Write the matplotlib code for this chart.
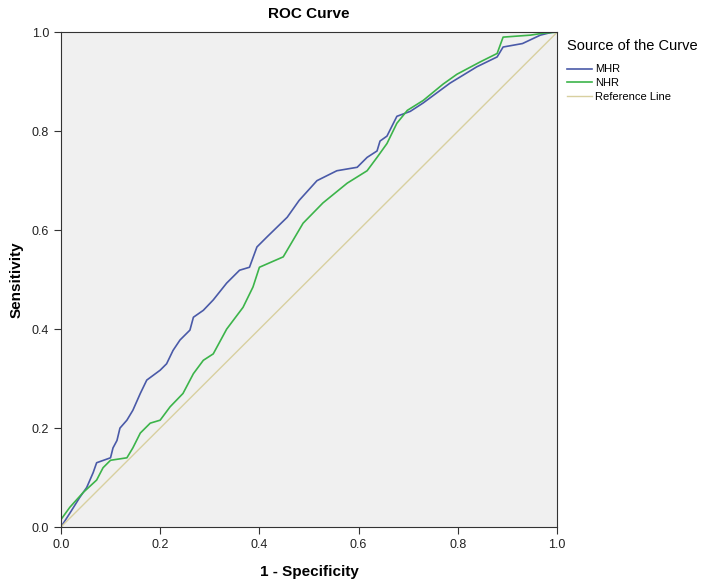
import matplotlib
matplotlib.use("Agg")
import matplotlib.pyplot as plt

plt.rcParams['font.family'] = ['Liberation Sans', 'DejaVu Sans']

# values
mhr_fpr = [0.0, 0.018, 0.038, 0.052, 0.065, 0.072, 0.10, 0.105, 0.113, 0.119, 0.133,
           0.145, 0.16, 0.173, 0.20, 0.213, 0.226, 0.24, 0.26, 0.267, 0.287, 0.307,
           0.334, 0.36, 0.38, 0.395, 0.415, 0.456, 0.48, 0.516, 0.556, 0.597, 0.617,
           0.637, 0.643, 0.657, 0.677, 0.704, 0.73, 0.784, 0.838, 0.879, 0.891, 0.93,
           0.966, 0.99, 1.0]
mhr_tpr = [0.0, 0.028, 0.06, 0.08, 0.11, 0.13, 0.14, 0.16, 0.175, 0.20, 0.216,
           0.236, 0.27, 0.297, 0.317, 0.33, 0.357, 0.378, 0.398, 0.424, 0.438, 0.459,
           0.493, 0.519, 0.525, 0.566, 0.586, 0.626, 0.66, 0.70, 0.72, 0.727, 0.747,
           0.76, 0.78, 0.79, 0.83, 0.84, 0.857, 0.897, 0.93, 0.95, 0.97, 0.977,
           0.994, 1.0, 1.0]

nhr_fpr = [0.0, 0.018, 0.045, 0.072, 0.085, 0.10, 0.133, 0.145, 0.16, 0.18, 0.20,
           0.22, 0.246, 0.267, 0.287, 0.307, 0.334, 0.367, 0.387, 0.40, 0.448, 0.488,
           0.528, 0.577, 0.617, 0.637, 0.657, 0.677, 0.698, 0.73, 0.77, 0.798, 0.845,
           0.879, 0.891, 0.946, 0.972, 1.0]
nhr_tpr = [0.015, 0.04, 0.07, 0.095, 0.12, 0.135, 0.14, 0.16, 0.19, 0.21, 0.216,
           0.243, 0.27, 0.31, 0.337, 0.35, 0.40, 0.444, 0.485, 0.525, 0.546, 0.614,
           0.655, 0.695, 0.72, 0.747, 0.775, 0.816, 0.842, 0.862, 0.895, 0.915, 0.94,
           0.957, 0.99, 0.994, 0.998, 1.0]

ref_x = [0.0, 1.0]
ref_y = [0.0, 1.0]

ticks = [0.0, 0.2, 0.4, 0.6, 0.8, 1.0]

fig = plt.figure(figsize=(7.08, 5.85), dpi=100)
ax = fig.add_axes([0.086, 0.099, 0.701, 0.846])
ax.set_facecolor('#f0f0f0')

ax.plot(mhr_fpr, mhr_tpr, color='#4a5aa8', lw=1.2, label='MHR')
ax.plot(nhr_fpr, nhr_tpr, color='#3cb44a', lw=1.2, label='NHR')
ax.plot(ref_x, ref_y, color='#d8d0a0', lw=1.0, label='Reference Line')

ax.set_xlim(0, 1)
ax.set_ylim(0, 1)
ax.set_xticks(ticks)
ax.set_yticks(ticks)
ax.set_xticklabels([f"{t:.1f}" for t in ticks])
ax.set_yticklabels([f"{t:.1f}" for t in ticks])
ax.tick_params(direction='out', length=5, labelsize=9, color='#333333', labelcolor='#222222')
for s in ax.spines.values():
    s.set_color('#333333')

ax.set_title("ROC Curve", fontsize=11, fontweight='bold', pad=10)
ax.set_xlabel("1 - Specificity", fontsize=11, fontweight='bold', labelpad=10)
ax.set_ylabel("Sensitivity", fontsize=11, fontweight='bold', labelpad=6)

leg = fig.legend(loc='upper left', bbox_to_anchor=(0.79, 0.946), frameon=False,
                 title="Source of the Curve", fontsize=8, title_fontsize=10.5,
                 handlelength=2.2, handletextpad=0.3, labelspacing=0.35,
                 borderpad=0.2)
leg._legend_box.align = "left"
leg._legend_box.sep = 8

fig.savefig("out.png", dpi=100)
